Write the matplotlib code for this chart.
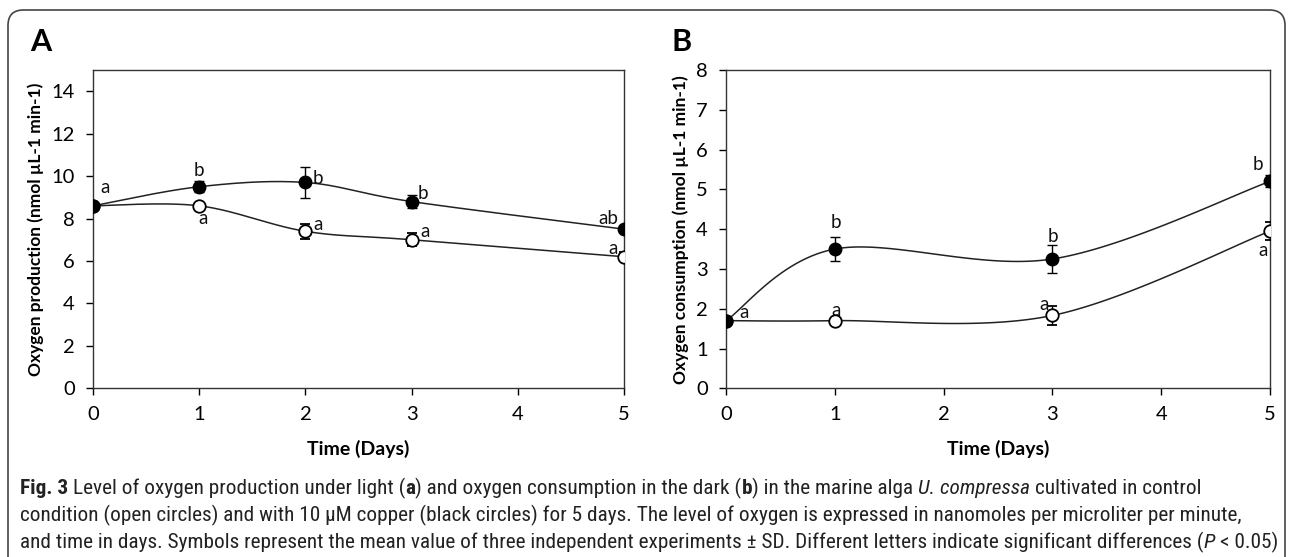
import matplotlib
matplotlib.use("Agg")
import matplotlib.pyplot as plt
from matplotlib.patches import FancyBboxPatch
from matplotlib import font_manager
import numpy as np

plt.rcParams['font.family'] = ['Lato', 'DejaVu Sans']

# panel A - oxygen production
days_a = [0, 1, 2, 3, 5]
cu_a = [8.6, 9.5, 9.7, 8.8, 7.5]
cu_a_sd = [0.1, 0.25, 0.75, 0.3, 0.15]
ctrl_a = [8.6, 8.6, 7.4, 7.0, 6.2]
ctrl_a_sd = [0.1, 0.1, 0.35, 0.3, 0.2]
cu_a_letters = ['a', 'b', 'b', 'b', 'ab']
ctrl_a_letters = ['', 'a', 'a', 'a', 'a']

# panel B - oxygen consumption
days_b = [0, 1, 3, 5]
cu_b = [1.7, 3.5, 3.25, 5.2]
cu_b_sd = [0.05, 0.3, 0.35, 0.15]
ctrl_b = [1.7, 1.7, 1.83, 3.95]
ctrl_b_sd = [0.05, 0.05, 0.25, 0.22]
cu_b_letters = ['a', 'b', 'b', 'b']
ctrl_b_letters = ['', 'a', 'a', 'a']

# letter offsets (points) relative to each point
cu_a_off = [(9, 13), (0, 12), (9, 3), (8, 6), (-11, 8)]
ctrl_a_off = [(0, 0), (3, -9), (9, 5), (10, 6), (-8, 6)]
cu_b_off = [(13, 6), (1, 19), (0, 16), (-9, 12)]
ctrl_b_off = [(0, 0), (1, 7), (-6, 8), (-5, -14)]

# caption pieces: (text, weight, style)
caption = [
    [("Fig. 3", 'bold', 'normal'), (" Level of oxygen production under light (", 'normal', 'normal'),
     ("a", 'bold', 'normal'), (") and oxygen consumption in the dark (", 'normal', 'normal'),
     ("b", 'bold', 'normal'), (") in the marine alga ", 'normal', 'normal'),
     ("U. compressa", 'normal', 'italic'), (" cultivated in control", 'normal', 'normal')],
    [("condition (open circles) and with 10 µM copper (black circles) for 5 days. The level of oxygen is expressed in nanomoles per microliter per minute,", 'normal', 'normal')],
    [("and time in days. Symbols represent the mean value of three independent experiments ± SD. Different letters indicate significant differences (", 'normal', 'normal'),
     ("P", 'normal', 'italic'), (" < 0.05)", 'normal', 'normal')],
]


def smooth(x, y, sx, sy, n=40):
    # excel-like smoothed line (catmull-rom bezier in screen-ish units)
    p = np.column_stack([np.asarray(x, float) * sx, np.asarray(y, float) * sy])
    out = []
    for i in range(len(p) - 1):
        p0 = p[max(i - 1, 0)]
        p1 = p[i]
        p2 = p[i + 1]
        p3 = p[min(i + 2, len(p) - 1)]
        c1 = p1 + (p2 - p0) / 6
        c2 = p2 - (p3 - p1) / 6
        t = np.linspace(0, 1, n)[:, None]
        seg = (1 - t) ** 3 * p1 + 3 * (1 - t) ** 2 * t * c1 + 3 * (1 - t) * t ** 2 * c2 + t ** 3 * p2
        out.append(seg)
    out = np.vstack(out)
    return out[:, 0] / sx, out[:, 1] / sy


def panel(ax, days, cu, cu_sd, ctrl, ctrl_sd, ymax, ystep, ylabel,
          cu_letters, cu_off, ctrl_letters, ctrl_off, ylab_x):
    sx = ax.get_position().width / 5.0
    sy = ax.get_position().height * 557 / 1290 / ymax
    for vals in (cu, ctrl):
        xs, ys = smooth(days, vals, sx, sy)
        ax.plot(xs, ys, color='#222222', lw=1.1, zorder=2)
    ax.errorbar(days, ctrl, yerr=ctrl_sd, fmt='o', ms=9, mfc='white', mec='black',
                mew=1.3, ecolor='black', elinewidth=1, capsize=3.5, zorder=3)
    ax.errorbar(days, cu, yerr=cu_sd, fmt='o', ms=9, mfc='black', mec='black',
                ecolor='black', elinewidth=1, capsize=3.5, zorder=4)
    for d, v, l, o in zip(days, cu, cu_letters, cu_off):
        ax.annotate(l, (d, v), xytext=o, textcoords='offset points',
                    ha='center', va='center', fontsize=13.5, color='#111111')
    for d, v, l, o in zip(days, ctrl, ctrl_letters, ctrl_off):
        ax.annotate(l, (d, v), xytext=o, textcoords='offset points',
                    ha='center', va='center', fontsize=13.5, color='#111111')
    ax.set_xlim(0, 5)
    ax.set_ylim(0, ymax)
    ax.set_xticks(range(0, 6))
    ax.set_yticks(np.arange(0, ymax + 0.01, ystep))
    ax.tick_params(direction='out', length=5, width=1, labelsize=14.5, pad=8)
    for s in ax.spines.values():
        s.set_linewidth(1)
        s.set_color('#333333')
    ax.set_xlabel('Time (Days)', fontsize=14, fontweight='bold', labelpad=12)
    ax.set_ylabel(ylabel, fontsize=12.5, fontweight='bold', va='center')
    ax.yaxis.set_label_coords(ylab_x, 0.5)


fig = plt.figure(figsize=(12.9, 5.57), dpi=100)
ax_a = fig.add_axes([0.0721, 0.3029, 0.4116, 0.5714])
ax_b = fig.add_axes([0.5628, 0.3029, 0.4217, 0.5714])

panel(ax_a, days_a, cu_a, cu_a_sd, ctrl_a, ctrl_a_sd, 15, 2,
      'Oxygen production (nmol µL-1 min-1)', cu_a_letters, cu_a_off,
      ctrl_a_letters, ctrl_a_off, -0.107)
panel(ax_b, days_b, cu_b, cu_b_sd, ctrl_b, ctrl_b_sd, 8, 1,
      'Oxygen consumption (nmol µL-1 min-1)', cu_b_letters, cu_b_off,
      ctrl_b_letters, ctrl_b_off, -0.083)

fig.text(41 / 1290, 1 - 42 / 557, 'A', fontsize=22, fontweight='bold', ha='center', va='center')
fig.text(682 / 1290, 1 - 42 / 557, 'B', fontsize=22, fontweight='bold', ha='center', va='center')

# rounded frame around the figure
frame = FancyBboxPatch((8 / 1290, -0.1), 1277 / 1290, 1.1 - 10 / 557,
                       boxstyle='round,pad=0,rounding_size=0.012',
                       mutation_aspect=1290 / 557, transform=fig.transFigure,
                       fill=False, ec='#444444', lw=1.2, clip_on=False)
fig.patches.append(frame)

# caption font: a narrow family if one is installed
cap_family = 'Lato'
for f in ['Liberation Sans Narrow', 'DejaVu Sans Condensed', 'Roboto Condensed', 'Roboto']:
    try:
        font_manager.findfont(font_manager.FontProperties(family=f), fallback_to_default=False)
        cap_family = f
        break
    except Exception:
        pass

renderer = fig.canvas.get_renderer()


def draw_caption(size):
    texts = []
    probe1 = fig.text(0, 0, "a a", fontsize=size, family=[cap_family, 'DejaVu Sans'])
    probe2 = fig.text(0, 0, "aa", fontsize=size, family=[cap_family, 'DejaVu Sans'])
    space_w = probe1.get_window_extent(renderer).width - probe2.get_window_extent(renderer).width
    probe1.remove()
    probe2.remove()
    right = 0
    for i, line in enumerate(caption):
        x = 20.0
        y = 1 - (488 + 27 * i) / 557
        for txt, wt, st in line:
            if txt.startswith(' '):
                x += space_w
            t = fig.text(x / 1290, y, txt.strip(), fontsize=size, fontweight=wt, fontstyle=st,
                         family=[cap_family, 'DejaVu Sans'], ha='left', va='center',
                         color='#222222')
            texts.append(t)
            x = t.get_window_extent(renderer).x1
            if txt.endswith(' '):
                x += space_w
        right = max(right, x)
    return texts, right


size = 12.0
for _ in range(4):
    texts, right = draw_caption(size)
    if abs(right - 1280) < 3:
        break
    for t in texts:
        t.remove()
    size *= (1280 - 20) / (right - 20)

fig.savefig('out.png', dpi=100)
